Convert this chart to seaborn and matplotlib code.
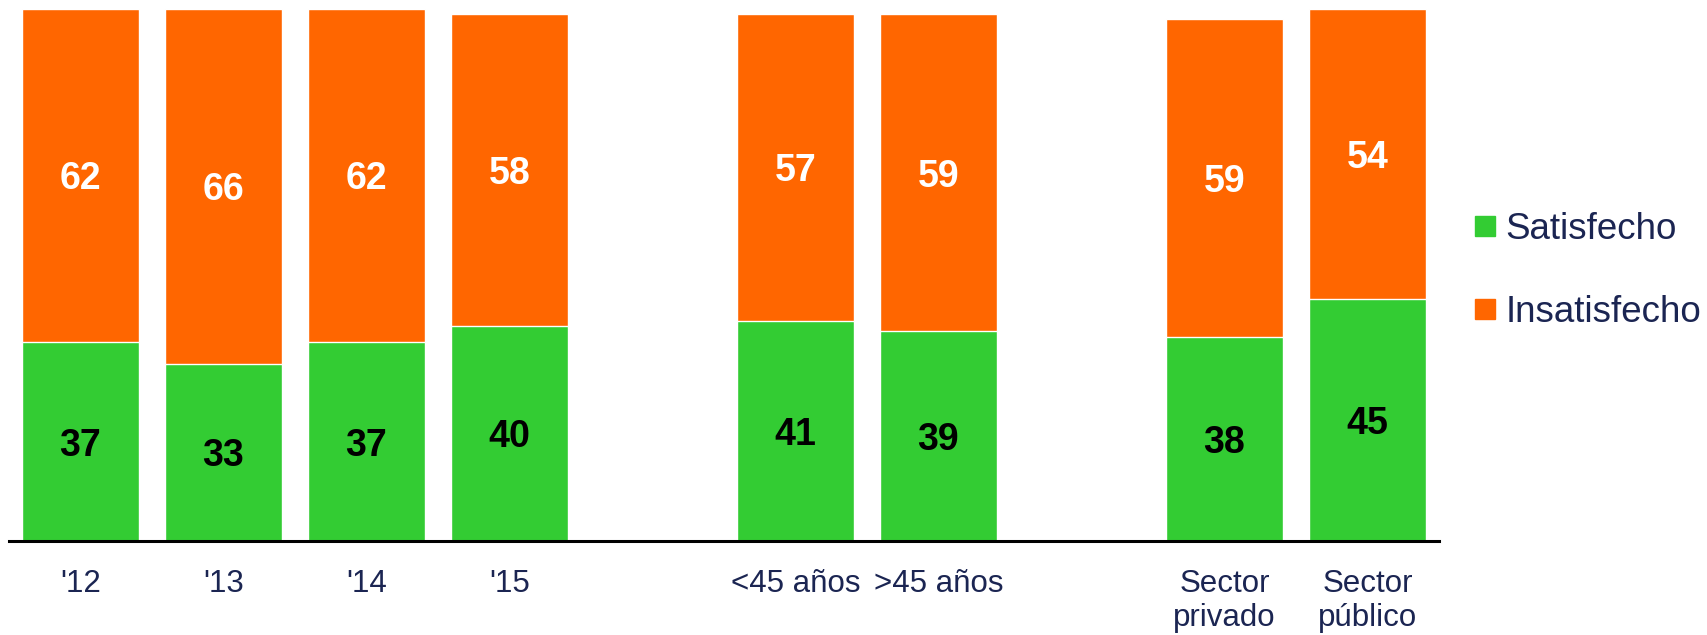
import matplotlib
matplotlib.use("Agg")
import matplotlib.pyplot as plt
import seaborn as sns
import pandas as pd
from matplotlib.lines import Line2D

categories = ["'12", "'13", "'14", "'15", "<45 años", ">45 años", "Sector\nprivado", "Sector\npúblico"]
satisfecho = [37, 33, 37, 40, 41, 39, 38, 45]
insatisfecho = [62, 66, 62, 58, 57, 59, 59, 54]

GREEN = "#33CC33"
ORANGE = "#FF6600"
NAVY = "#1B2552"

sns.set_theme(style="white")
plt.rcParams["font.family"] = ["Liberation Sans", "DejaVu Sans"]

df = pd.DataFrame({
    "cat": categories,
    "sat": satisfecho,
    "ins": insatisfecho,
})
df["total"] = df["sat"] + df["ins"]

# order with blank slots to create group gaps
order = categories[:4] + ["_gap1"] + categories[4:6] + ["_gap2"] + categories[6:]

fig = plt.figure(figsize=(17.07, 6.35), dpi=100)
ax = fig.add_axes([8.7 / 1707, 94 / 635, (1439 - 8.7) / 1707, 537.7 / 635])

sns.barplot(data=df, x="cat", y="total", order=order, color=ORANGE, width=0.82,
            saturation=1, edgecolor="white", linewidth=1, ax=ax)
sns.barplot(data=df, x="cat", y="sat", order=order, color=GREEN, width=0.82,
            saturation=1, edgecolor="white", linewidth=1, ax=ax)

ax.set_ylim(0, 100)
ax.set_xlim(-0.5, len(order) - 0.5)

pos = {c: i for i, c in enumerate(order)}
for c, s, n in zip(categories, satisfecho, insatisfecho):
    x = pos[c]
    ax.text(x, s / 2, str(s), ha="center", va="center_baseline", fontsize=27,
            fontweight="bold", color="black")
    ax.text(x, s + n / 2, str(n), ha="center", va="center_baseline", fontsize=27,
            fontweight="bold", color="white")

ax.set_xticks([pos[c] for c in categories])
ax.set_xticklabels(categories, fontsize=22.5, color=NAVY)
ax.tick_params(axis="x", length=0, pad=20)
ax.set_yticks([])
ax.set_xlabel("")
ax.set_ylabel("")
for sp in ["top", "right", "left"]:
    ax.spines[sp].set_visible(False)
ax.spines["bottom"].set_color("black")
ax.spines["bottom"].set_linewidth(2.2)

handles = [
    Line2D([], [], marker="s", linestyle="none", markersize=14,
           markerfacecolor=GREEN, markeredgecolor=GREEN),
    Line2D([], [], marker="s", linestyle="none", markersize=14,
           markerfacecolor=ORANGE, markeredgecolor=ORANGE),
]
leg = fig.legend(handles, ["Satisfecho", "Insatisfecho"], loc="center left",
                 bbox_to_anchor=(1474 / 1707, 1 - 271 / 635), frameon=False,
                 fontsize=26.5, labelcolor=NAVY, handlelength=0.6,
                 handletextpad=0.25, labelspacing=1.3, borderpad=0,
                 borderaxespad=0)

fig.savefig("out.png", dpi=100)
